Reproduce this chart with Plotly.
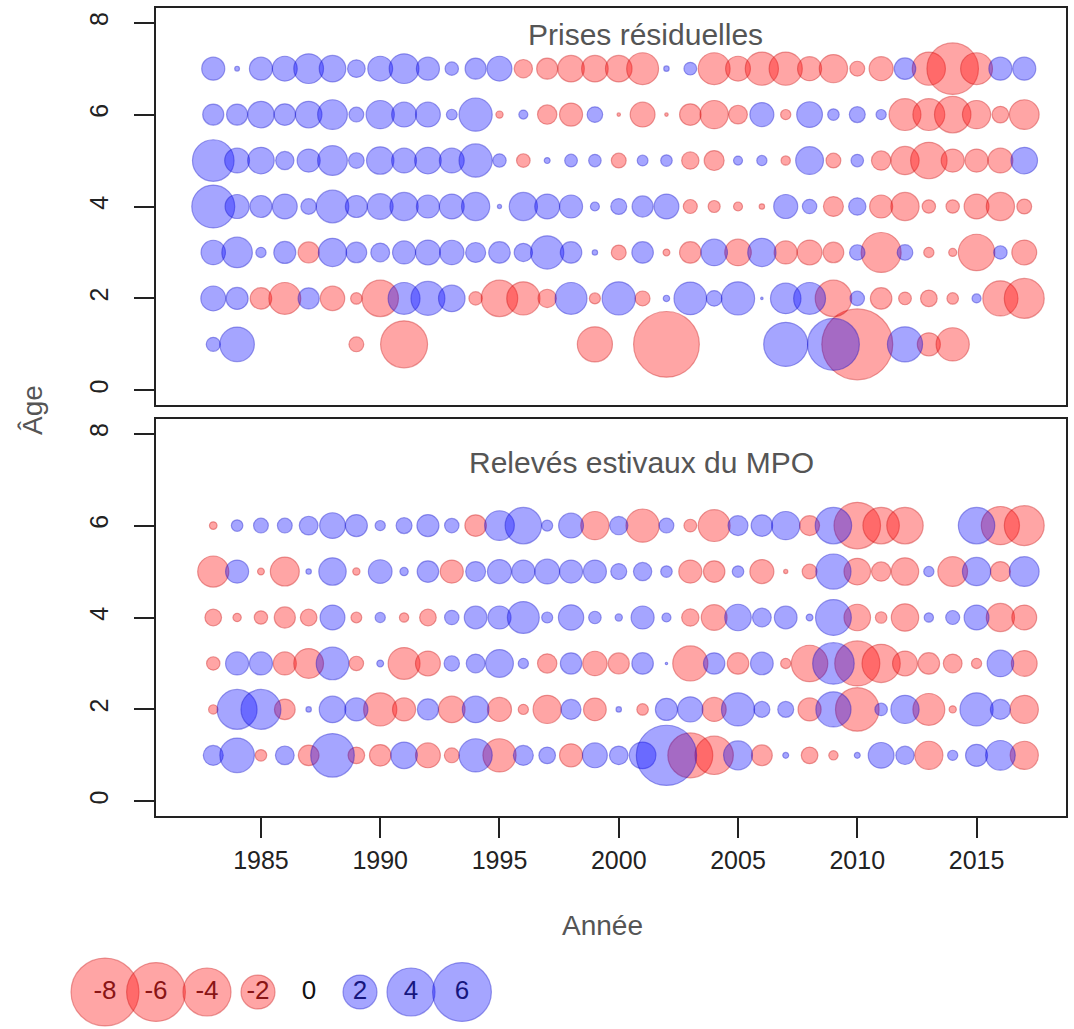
import math
import plotly.graph_objects as go

# ---------------- data ----------------
years = list(range(1983, 2018))

# Panel 1 : "Prises résiduelles" (residuals by age, 1983..2017; None = no value)
top_age1 = [0.34, 2.07, None, None, None, None, -0.38, None, -3.83, None,
            None, None, None, None, None, None, -2.14, None, None, -7.5,
            None, None, None, None, 3.37, None, 4.67, -8.73, None, 2.14,
            -0.92, -1.91, None, None, None]
top_age2 = [1.07, 0.84, -0.8, -1.76, 0.77, -1.03, -0.23, -2.3, 1.76, 1.99,
            1.22, -0.31, -2.3, -1.91, -0.58, 1.76, -0.21, 1.91, -0.38, 0.07,
            1.84, 0.42, 1.91, 0.01, 1.61, 1.76, -2.3, 0.36, -0.8, -0.28,
            -0.48, -0.23, 0.14, -2.14, -2.76]
top_age3 = [1.03, 1.61, 0.18, 0.84, -0.77, 1.38, 0.74, 0.61, 0.92, 1.07,
            1.03, 0.69, 0.8, 0.58, 1.91, 0.8, 0.05, -0.38, 0.8, -0.08,
            -0.8, 1.22, -1.22, 1.38, -0.92, -1.07, -0.74, 0.41, -2.76, 0.42,
            -0.18, -0.11, -2.3, 0.31, -1.07]
top_age4 = [3.2, 1.0, 0.84, 1.07, 0.42, 1.84, 0.84, 1.15, 1.38, 0.92,
            1.07, 1.38, 0.03, 1.38, 1.07, 0.92, 0.14, 0.44, 0.77, 1.07,
            -0.34, -0.25, -0.14, -0.05, 1.0, 0.36, -0.69, 0.52, -0.92, -1.38,
            -0.31, -0.31, -1.07, -1.38, -0.38]
top_age5 = [3.0, 1.07, 1.22, 0.58, 0.92, 1.53, 0.42, 1.3, 1.07, 1.22,
            1.07, 1.91, 0.31, -0.32, 0.06, 0.28, 0.27, -0.38, 0.2, 0.23,
            -0.52, -0.69, 0.14, 0.18, -0.15, 1.34, -0.38, 0.27, -0.65, -1.38,
            -2.3, -0.92, -0.92, -1.07, 1.22]
top_age6 = [0.77, 0.77, 1.22, 0.8, 1.22, 1.53, 0.38, 1.38, 1.07, 1.07,
            0.2, 1.91, -0.09, 0.14, -0.65, -0.92, 0.42, -0.02, -1.07, -0.02,
            -0.8, -1.38, -0.61, 1.0, -0.18, 1.15, 0.23, 0.44, 0.18, -1.76,
            -1.76, -2.3, -1.38, -0.48, -1.53]
top_age7 = [0.92, 0.04, 0.92, 1.07, 1.53, 1.22, 0.54, 1.07, 1.53, 0.92,
            0.31, 0.77, 1.07, -0.58, -0.77, -1.22, -1.22, -1.22, -1.76, 0.05,
            0.28, -1.76, -1.07, -1.91, -1.91, -1.0, -1.38, -0.38, -1.0, 0.8,
            -1.91, -4.6, -1.76, 0.92, 0.92]

# Panel 2 : "Relevés estivaux du MPO"
bot_age1 = [0.69, 2.07, -0.23, 0.61, -0.74, 3.29, -0.48, -0.8, 1.22, -1.07,
            -0.38, 1.91, -1.91, 0.69, 0.48, -0.92, 1.07, 0.6, 1.23, 6.3,
            -3.5, -2.55, 1.45, -0.75, 0.06, -0.48, -0.15, 0.06, 1.15, 0.58,
            -1.38, 0.18, 0.84, 1.53, -1.38]
bot_age2 = [-0.15, 2.76, 2.76, -0.74, 0.05, 1.22, 0.92, -1.91, -0.92, 0.77,
            -1.22, 1.22, -1.0, -0.18, -1.38, 0.69, -0.89, 0.05, -0.23, 0.85,
            1.1, -1.0, 1.9, 0.44, 0.44, -0.92, 2.14, -3.29, 0.27, 1.38,
            -1.76, -0.09, 1.91, 0.69, -1.38]
bot_age3 = [-0.31, 0.92, 0.92, -0.92, -1.53, 1.84, -0.36, 0.08, -1.76, -1.07,
            0.41, 0.61, 1.34, 0.18, -0.65, 0.79, -1.03, -0.77, 0.8, 0.01,
            -2.14, 0.79, -0.8, 0.89, -0.18, -2.3, 2.99, -3.52, -2.53, -1.07,
            -0.8, -0.61, -0.18, 1.22, -1.15]
bot_age4 = [-0.48, -0.12, -0.31, -0.77, -0.48, 1.07, -0.2, 0.18, -0.15, -0.48,
            0.36, 0.89, 0.92, 1.76, 0.21, 1.11, 0.27, 0.09, 0.92, 0.14,
            -0.52, -1.15, 1.22, 0.61, 0.89, 0.08, 2.22, -1.22, -0.23, -1.3,
            0.15, 0.34, 1.07, -1.38, -1.07]
bot_age5 = [-1.68, 0.92, -0.08, -1.45, 0.05, 1.3, -0.09, 0.97, 0.12, 0.8,
            -0.92, 0.69, 1.0, 0.92, 1.07, 0.92, 0.92, 0.44, 0.58, 0.23,
            -0.92, -0.8, 0.23, -1.0, -0.03, -0.38, 2.14, -1.22, -0.65, -1.3,
            0.18, -1.53, 1.38, -0.69, 1.53]
bot_age6 = [-0.1, 0.23, 0.38, 0.38, 0.61, 1.15, 0.84, 0.18, 0.44, 0.84,
            0.36, -0.8, 1.53, 2.3, 0.21, 1.07, -1.38, 0.58, -1.91, 0.38,
            -0.28, -1.76, 0.69, 0.8, 1.38, -0.69, 2.3, -3.75, -2.3, -2.3,
            None, None, 2.3, -2.53, -2.76]

top_panel = {1: top_age1, 2: top_age2, 3: top_age3, 4: top_age4,
             5: top_age5, 6: top_age6, 7: top_age7}
bot_panel = {1: bot_age1, 2: bot_age2, 3: bot_age3, 4: bot_age4,
             5: bot_age5, 6: bot_age6}

legend_values = [-8, -6, -4, -2, 0, 2, 4, 6]

# ---------------- style ----------------
W, H = 1074, 1029
K = 24.0  # marker diameter (px) per sqrt(|residual|)
RED_FILL, RED_LINE = "rgba(255,0,0,0.5)", "rgba(200,0,0,0.55)"
BLUE_FILL, BLUE_LINE = "rgba(0,0,255,0.5)", "rgba(0,0,200,0.55)"
FONT = "Liberation Sans, Arial, sans-serif"


def px_x(p):
    return p / W


def px_y(p):
    return 1 - p / H


fig = go.Figure()


def add_panel(panel, xa, ya):
    for sign, fill, line in ((-1, RED_FILL, RED_LINE), (1, BLUE_FILL, BLUE_LINE)):
        xs, ys, ss = [], [], []
        for age, vals in panel.items():
            for yr, v in zip(years, vals):
                if v is None or v * sign <= 0:
                    continue
                xs.append(yr)
                ys.append(age)
                ss.append(K * math.sqrt(abs(v)))
        fig.add_trace(go.Scatter(
            x=xs, y=ys, mode="markers", xaxis=xa, yaxis=ya,
            marker=dict(size=ss, sizemode="diameter", color=fill,
                        line=dict(color=line, width=1.2)),
            showlegend=False, hoverinfo="skip"))


add_panel(top_panel, "x", "y")
add_panel(bot_panel, "x2", "y2")

# bubble-size key at the bottom (own hidden axes)
leg_x = list(range(len(legend_values)))
leg_fill = [RED_FILL if v < 0 else (BLUE_FILL if v > 0 else "rgba(0,0,0,0)") for v in legend_values]
leg_line = [RED_LINE if v < 0 else (BLUE_LINE if v > 0 else "rgba(0,0,0,0)") for v in legend_values]
leg_txt_col = ["#8a1515" if v < 0 else ("#16167e" if v > 0 else "#111111") for v in legend_values]
fig.add_trace(go.Scatter(
    x=leg_x, y=[0] * len(legend_values), xaxis="x3", yaxis="y3",
    mode="markers+text", text=[str(v) for v in legend_values],
    textposition="middle center",
    textfont=dict(family=FONT, size=26, color=leg_txt_col),
    marker=dict(size=[K * math.sqrt(abs(v)) for v in legend_values],
                sizemode="diameter", color=leg_fill,
                line=dict(color=leg_line, width=1.2)),
    cliponaxis=False, showlegend=False, hoverinfo="skip"))

# ---------------- layout ----------------
x_dom = [px_x(156), px_x(1066)]
x_rng = [1980.6, 2018.75]
y_rng = [-0.32, 8.32]
axis_common = dict(showline=True, mirror=True, linecolor="#222", linewidth=1.5,
                   showgrid=False, zeroline=False)
ytick = dict(tickvals=[0, 2, 4, 6, 8], ticks="outside", ticklen=20, tickwidth=1.5,
             tickcolor="#222", tickangle=-90, ticklabelstandoff=16,
             tickfont=dict(family=FONT, size=25, color="#222"))

# legend axis: index 0 at px 105, step 51 px
l0, step = 105.0, 51.0
leg_cy = 992
fig.update_layout(
    width=W, height=H, margin=dict(l=0, r=0, t=0, b=0),
    paper_bgcolor="white", plot_bgcolor="white",
    xaxis=dict(domain=x_dom, range=x_rng, anchor="y", showticklabels=False,
               ticks="", **axis_common),
    yaxis=dict(domain=[px_y(405), px_y(8)], range=y_rng, anchor="x",
               **ytick, **axis_common),
    xaxis2=dict(domain=x_dom, range=x_rng, anchor="y2",
                tickvals=[1985, 1990, 1995, 2000, 2005, 2010, 2015],
                ticks="outside", ticklen=20, tickwidth=1.5, tickcolor="#222",
                ticklabelstandoff=1,
                tickfont=dict(family=FONT, size=25, color="#222"),
                **axis_common),
    yaxis2=dict(domain=[px_y(816), px_y(419)], range=y_rng, anchor="x2",
                **ytick, **axis_common),
    xaxis3=dict(domain=[0, 1], range=[(0 - l0) / step, (W - l0) / step],
                anchor="y3", visible=False),
    yaxis3=dict(domain=[0, px_y(leg_cy) * 2], range=[-1, 1], anchor="x3",
                visible=False),
    annotations=[
        dict(text="Prises résiduelles", x=px_x(645), y=px_y(34), xref="paper",
             yref="paper", showarrow=False, xanchor="center", yanchor="middle",
             font=dict(family=FONT, size=30, color="#555")),
        dict(text="Relevés estivaux du MPO", x=px_x(641), y=px_y(462),
             xref="paper", yref="paper", showarrow=False, xanchor="center",
             yanchor="middle", font=dict(family=FONT, size=30, color="#555")),
        dict(text="Année", x=px_x(602), y=px_y(925), xref="paper", yref="paper",
             showarrow=False, xanchor="center", yanchor="middle",
             font=dict(family=FONT, size=28, color="#555")),
        dict(text="Âge", x=px_x(32), y=px_y(410), xref="paper", yref="paper",
             showarrow=False, xanchor="center", yanchor="middle", textangle=-90,
             font=dict(family=FONT, size=28, color="#555")),
    ],
)

fig.write_html("out.html")
